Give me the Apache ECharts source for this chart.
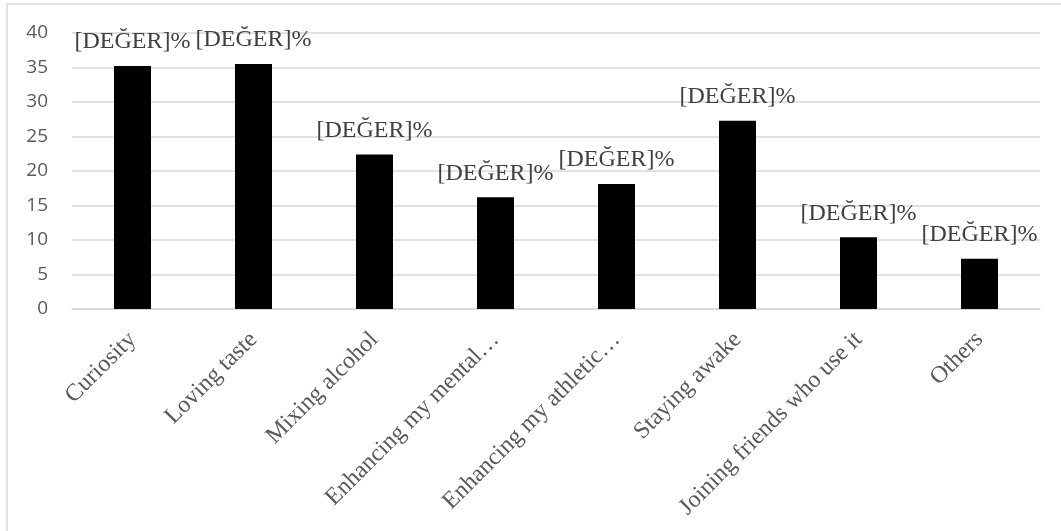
<!DOCTYPE html>
<html>
<head>
<meta charset="utf-8">
<script src="https://cdn.jsdelivr.net/npm/echarts@6/dist/echarts.min.js"></script>
<style>html,body{margin:0;padding:0;background:#fff}#c{width:1061px;height:531px}</style>
</head>
<body>
<div id="c"></div>
<script>
const categories = ["Curiosity", "Loving taste", "Mixing alcohol", "Enhancing my mental\u2026", "Enhancing my athletic\u2026", "Staying awake", "Joining friends who use it", "Others"];
const values = [35.2, 35.5, 22.4, 16.2, 18.1, 27.3, 10.4, 7.3];
const yTicks = { min: 0, max: 40, interval: 5 };
const labelText = "[DEĞER]%";

const chart = echarts.init(document.getElementById('c'), null, {renderer: 'canvas'});
chart.setOption({
  animation: false,
  backgroundColor: '#fff',
  graphic: [{
    type: 'rect', silent: true,
    shape: {x: 7, y: 4, width: 1100, height: 600},
    style: {fill: 'none', stroke: '#d9d9d9', lineWidth: 1.5}
  }],
  grid: {left: 72, right: 21, top: 33, bottom: 222, containLabel: false},
  xAxis: {
    type: 'category',
    data: categories,
    axisLine: {show: true, lineStyle: {color: '#d9d9d9', width: 1.5}},
    axisTick: {show: false},
    axisLabel: {
      rotate: 45, interval: 0, margin: 27,
      fontFamily: 'Liberation Serif', fontSize: 24, color: '#595959'
    }
  },
  yAxis: {
    type: 'value',
    min: yTicks.min, max: yTicks.max, interval: yTicks.interval,
    axisLine: {show: false},
    axisTick: {show: false},
    splitLine: {lineStyle: {color: '#d9d9d9', width: 1.5}},
    axisLabel: {fontFamily: 'Open Sans', fontSize: 19, color: '#595959', margin: 24}
  },
  series: [{
    type: 'bar',
    data: values,
    barWidth: 37,
    itemStyle: {color: '#000'},
    label: {
      show: true, position: 'top', distance: 12,
      formatter: () => labelText,
      fontFamily: 'Liberation Serif', fontSize: 24, color: '#404040'
    }
  }]
});
</script>
</body>
</html>
